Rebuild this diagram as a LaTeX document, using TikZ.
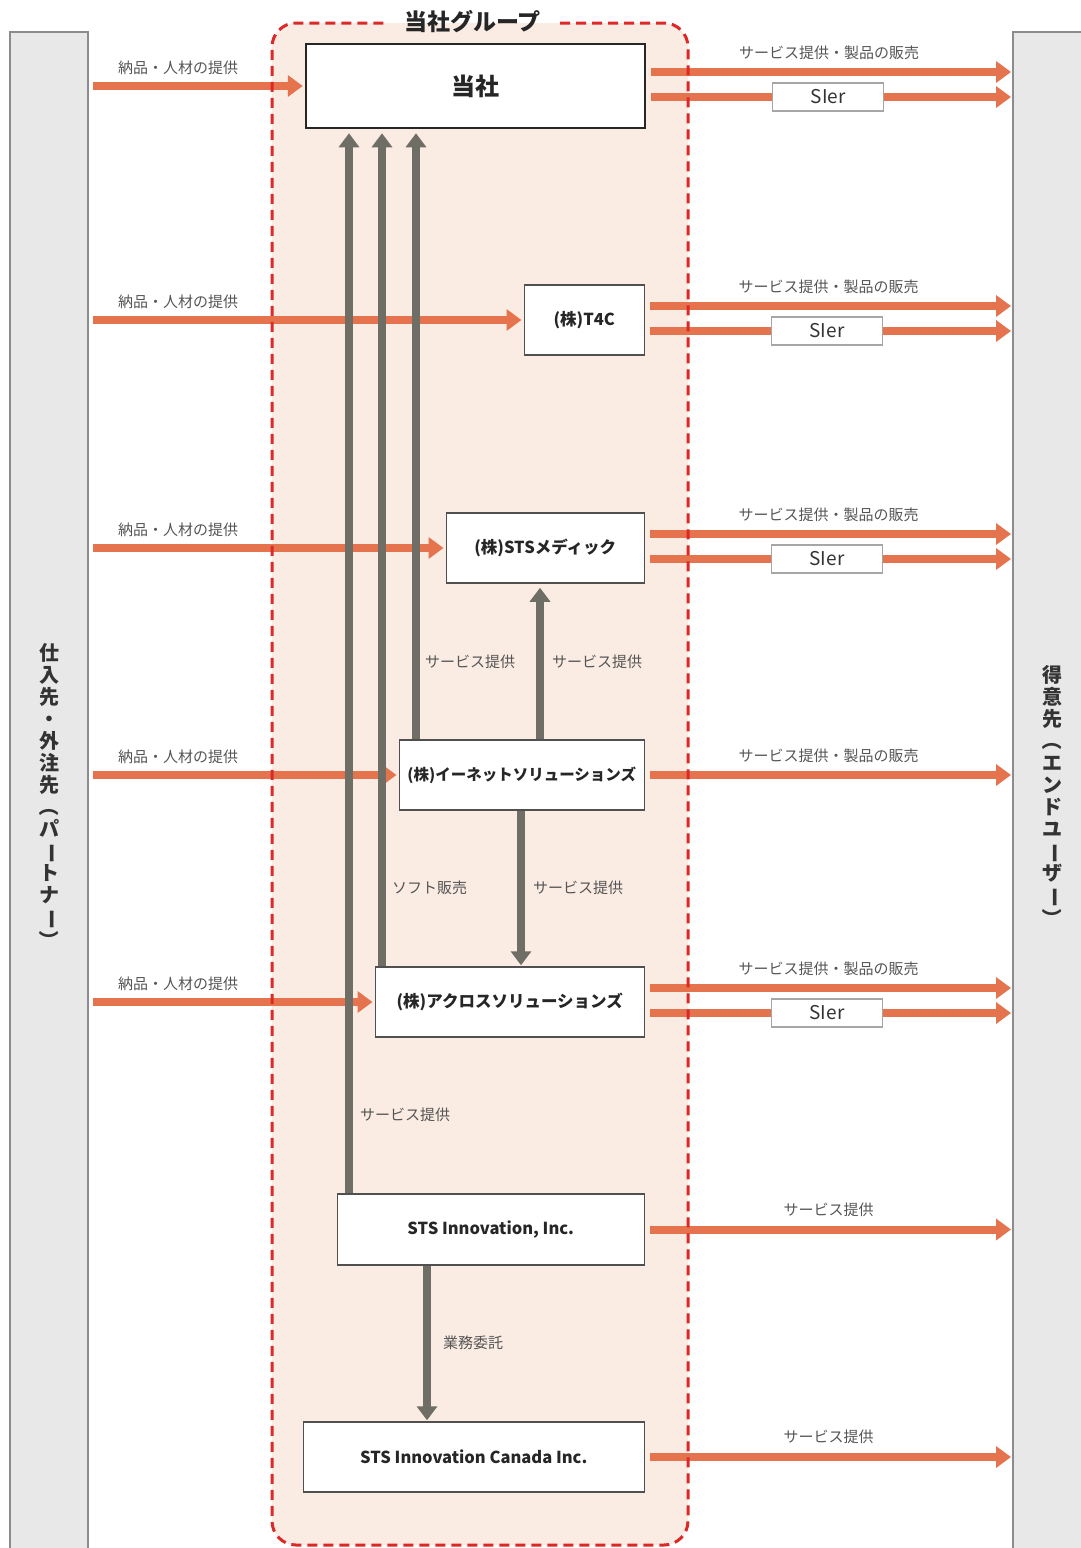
\documentclass[tikz,border=0pt]{standalone}
\usepackage{fontspec}
\setmainfont{Noto Sans CJK JP}
\usepackage{graphicx}
\usetikzlibrary{arrows.meta}
\definecolor{oarr}{RGB}{229,115,78}
\definecolor{garr}{RGB}{110,110,102}
\definecolor{gfill}{RGB}{251,236,227}
\definecolor{gline}{RGB}{220,40,38}
\definecolor{sidefill}{RGB}{232,232,232}
\definecolor{sideline}{RGB}{140,140,140}
\definecolor{boxline}{RGB}{80,80,80}
\definecolor{lbl}{RGB}{85,85,85}
\newcommand{\vch}[1]{\rotatebox[origin=c]{-90}{#1}}% upright form for vertical text
\tikzstyle{grpframe}=[draw=gline,line width=3pt,dash pattern=on 10pt off 6pt,rounded corners=24pt]

\begin{document}
\begin{tikzpicture}[x=1pt, y=-1pt,
                    OA/.style = {line width=8pt, draw=oarr,
                              -{Triangle[width=21pt,length=15pt]}},
                    OL/.style = {line width=8pt, draw=oarr},
                    GA/.style = {line width=8pt, draw=garr,
                              -{Triangle[width=20pt,length=14pt]}},
                    B/.style = {draw=boxline, line width=1.5pt, fill=white,
                              minimum height=70pt, anchor=east, text=black!85,
                              font=\bfseries\fontsize{16.5}{18}\selectfont},
                    LB/.style = {font=\fontsize{15}{17}\selectfont, text=lbl,
                              inner sep=0pt},
                    SI/.style = {draw=gray!70, line width=1.2pt, fill=white,
                              minimum width=111pt, minimum height=28pt, inner sep=0pt,
                              font=\fontsize{19}{20}\selectfont, text=black!80},
                    SIDE/.style = {draw=sideline, line width=2pt, fill=sidefill,
                              minimum width=78pt, minimum height=1530pt, inner sep=0pt,
                              align=center, text=black!80,
                              font=\bfseries\fontsize{20}{22}\selectfont}
               ]
               \useasboundingbox (0,0) rectangle (1081,1548);

               % group area
               \fill[gfill, rounded corners=24pt] (272,23) rectangle (688,1545);

               % partners / end users
               \node[SIDE] (partner) at (49,797)
                    {仕\\入\\先\\・\\外\\注\\先\\\vch{（}\\パ\\\vch{ー}\\ト\\ナ\\\vch{ー}\\\vch{）}};
               \node[SIDE] (client) at (1052,797)
                    {得\\意\\先\\\vch{（}\\エ\\ン\\ド\\ユ\\\vch{ー}\\ザ\\\vch{ー}\\\vch{）}};

               % companies
               \node[draw=black!85, line width=2.5pt, fill=white, minimum width=339pt,
                     minimum height=84pt, text=black!85,
                     font=\bfseries\fontsize{24}{26}\selectfont] (main) at (475.5,86) {当社};
               \node[B, minimum width=120pt] (t4c)    at (645,320)  {(株)T4C};
               \node[B, minimum width=198pt] (medic)  at (645,548)  {(株)STSメディック};
               \node[B, minimum width=245pt, inner xsep=2pt,
                     font=\bfseries\fontsize{15.5}{18}\selectfont] (enet) at (645,775) {(株)イーネットソリューションズ};
               \node[B, minimum width=269pt] (across) at (645,1002) {(株)アクロスソリューションズ};
               \node[B, minimum width=307pt, minimum height=71pt] (stsi) at (645,1229.5) {STS Innovation, Inc.};
               \node[B, minimum width=341pt] (canada) at (645,1457) {STS Innovation Canada Inc.};

               % supply side
               \foreach \b in {main,t4c,medic,enet,across}
                    \draw[OA, shorten <=4pt, shorten >=2pt] (\b.west -| partner.east) -- (\b.west)
                         node[LB, pos=0, anchor=west, xshift=25pt, yshift=18pt] {納品・人材の提供};

               % sales side
               \foreach \b in {main,t4c,medic,across} {
                    \path ([yshift=14pt]\b.east) coordinate (hi-\b)
                          ([yshift=-11pt]\b.east) coordinate (lo-\b);
                    \draw[OA, shorten <=5pt, shorten >=1pt] (hi-\b) -- (hi-\b -| client.west)
                         node[LB, pos=0.5, yshift=19pt] {サービス提供・製品の販売};
                    \node[SI] (sier-\b) at ([xshift=182pt]lo-\b) {SIer};
                    \draw[OL, shorten <=5pt] (lo-\b) -- (sier-\b.west);
                    \draw[OA, shorten >=1pt] (sier-\b.east) -- (sier-\b.east -| client.west);
               }
               \draw[OA, shorten <=5pt, shorten >=1pt] (enet.east) -- (enet.east -| client.west)
                    node[LB, pos=0.5, yshift=19pt] {サービス提供・製品の販売};
               \draw[OA, shorten <=5pt, shorten >=1pt] (stsi.east) -- (stsi.east -| client.west)
                    node[LB, pos=0.5, yshift=20pt] {サービス提供};
               \draw[OA, shorten <=5pt, shorten >=1pt] (canada.east) -- (canada.east -| client.west)
                    node[LB, pos=0.5, yshift=20pt] {サービス提供};

               % inside the group
               \coordinate (g1) at (349,0);
               \coordinate (g2) at (382,0);
               \coordinate (g3) at (416,0);
               \coordinate (g4) at (540,0);
               \coordinate (g5) at (521,0);
               \coordinate (g6) at (427,0);
               \draw[GA, shorten >=4pt] (stsi.north -| g1)   -- (main.south -| g1);
               \draw[GA, shorten >=4pt] (across.north -| g2) -- (main.south -| g2);
               \draw[GA, shorten >=4pt] (enet.north -| g3)   -- (main.south -| g3);
               \draw[GA, shorten >=4pt] (enet.north -| g4)   -- (medic.south -| g4);
               \draw[GA, shorten >=1pt] (enet.south -| g5)   -- (across.north -| g5);
               \draw[GA, shorten >=1pt] (stsi.south -| g6)   -- (canada.north -| g6);

               \node[LB, anchor=west] (l1) at (425,662)  {サービス提供};
               \node[LB, anchor=west] (l2) at (552,662)  {サービス提供};
               \node[LB, anchor=west] (l3) at (392,888)  {ソフト販売};
               \node[LB, anchor=west] (l4) at (533,888)  {サービス提供};
               \node[LB, anchor=west] (l5) at (360,1115) {サービス提供};
               \node[LB, anchor=west] (l6) at (443,1343) {業務委託};

               % dashed border, open for the title
               \draw[grpframe] (560,23) -- (688,23) -- (688,1545) -- (272,1545) -- (272,23) -- (384,23);
               \node[text=black!85, font=\bfseries\fontsize{23}{25}\selectfont] (grp) at (472.5,22) {当社グループ};

          \end{tikzpicture}
\end{document}
